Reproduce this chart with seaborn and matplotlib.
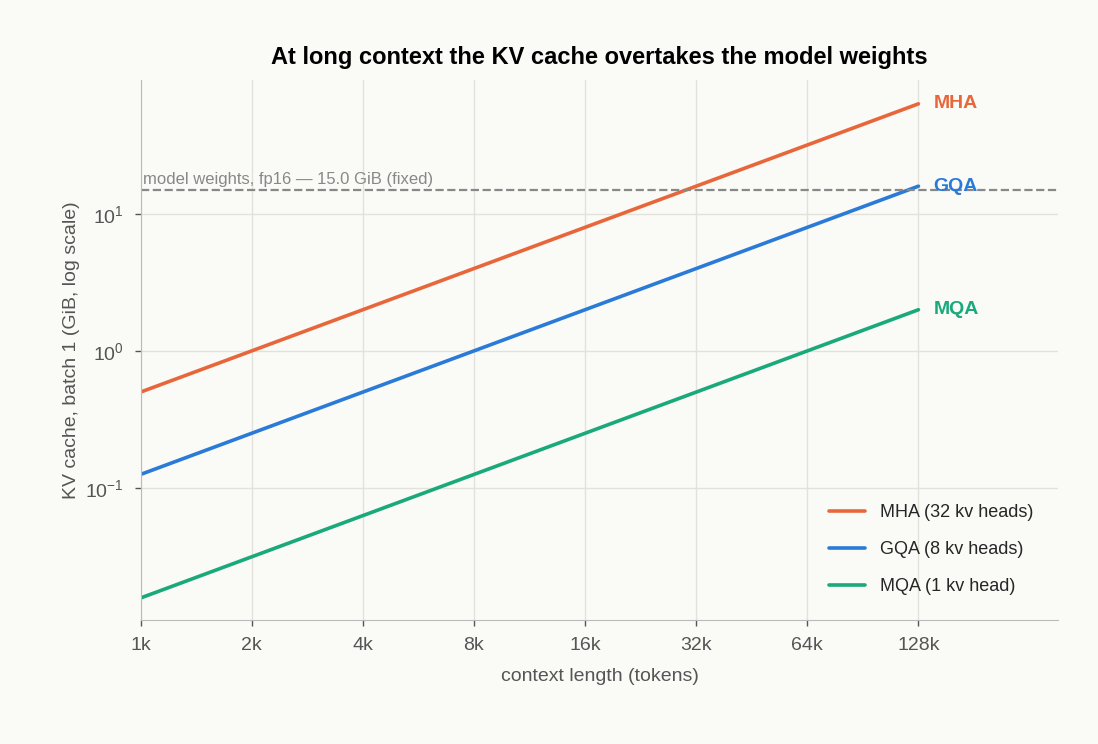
import numpy as np
import pandas as pd
import matplotlib
matplotlib.use("Agg")
import matplotlib.pyplot as plt
import seaborn as sns

# context lengths in tokens and KV cache size (GiB, batch 1)
context = [1024, 2048, 4096, 8192, 16384, 32768, 65536, 131072]
tick_labels = ["1k", "2k", "4k", "8k", "16k", "32k", "64k", "128k"]
mha = [0.5, 1, 2, 4, 8, 16, 32, 64]
gqa = [0.125, 0.25, 0.5, 1, 2, 4, 8, 16]
mqa = [0.015625, 0.03125, 0.0625, 0.125, 0.25, 0.5, 1, 2]
weights_gib = 15.0

names = ["MHA (32 kv heads)", "GQA (8 kv heads)", "MQA (1 kv head)"]
short = ["MHA", "GQA", "MQA"]
colors = ["#e8673a", "#2a7bd8", "#19a97a"]

df = pd.DataFrame({
    "context": context * 3,
    "gib": mha + gqa + mqa,
    "variant": sum([[n] * len(context) for n in names], []),
})

sns.set_style("whitegrid")
plt.rcParams["font.family"] = ["Liberation Sans", "DejaVu Sans"]
bg = "#fafaf7"
fig, ax = plt.subplots(figsize=(10.98, 7.44), dpi=100)
fig.patch.set_facecolor(bg)
ax.set_facecolor(bg)

sns.lineplot(data=df, x="context", y="gib", hue="variant", palette=colors,
             linewidth=2.6, ax=ax)
ax.set_xscale("log", base=2)
ax.set_yscale("log")
ax.set_xlim(1024, 131072 * 2 ** 1.26)
ax.set_ylim(0.0107, 95)
ax.set_xticks(context)
ax.set_xticklabels(tick_labels)
ax.set_yticks([0.1, 1, 10])
ax.minorticks_off()
ax.grid(True, color="#e2e2da", linewidth=1)

ax.axhline(weights_gib, color="#888888", linestyle="--", linewidth=1.6)
ax.text(1040, weights_gib * 1.05, "model weights, fp16 — 15.0 GiB (fixed)",
        color="#888888", fontsize=12, va="bottom")

for vals, s, c in zip([mha, gqa, mqa], short, colors):
    ax.text(context[-1] * 1.1, vals[-1], s, color=c, fontsize=14,
            fontweight="bold", va="center")

ax.set_title("At long context the KV cache overtakes the model weights",
             fontsize=17, fontweight="bold", pad=12, color="black")
ax.set_xlabel("context length (tokens)", fontsize=14, color="#555555", labelpad=10)
ax.set_ylabel("KV cache, batch 1 (GiB, log scale)", fontsize=14, color="#555555")
ax.tick_params(labelsize=14, colors="#555555", length=4, width=1,
               pad=8, left=True, bottom=True)
ax.tick_params(axis="both", colors="#555555", labelcolor="#555555")
for side in ["top", "right"]:
    ax.spines[side].set_visible(False)
for side in ["left", "bottom"]:
    ax.spines[side].set_color("#bbbbbb")

ax.legend(loc="lower right", frameon=False, fontsize=13, title=None,
          borderaxespad=1.0, labelspacing=1.1)

plt.subplots_adjust(left=0.128, right=0.964, top=0.892, bottom=0.166)
plt.savefig("out.png", dpi=100, facecolor=bg)
